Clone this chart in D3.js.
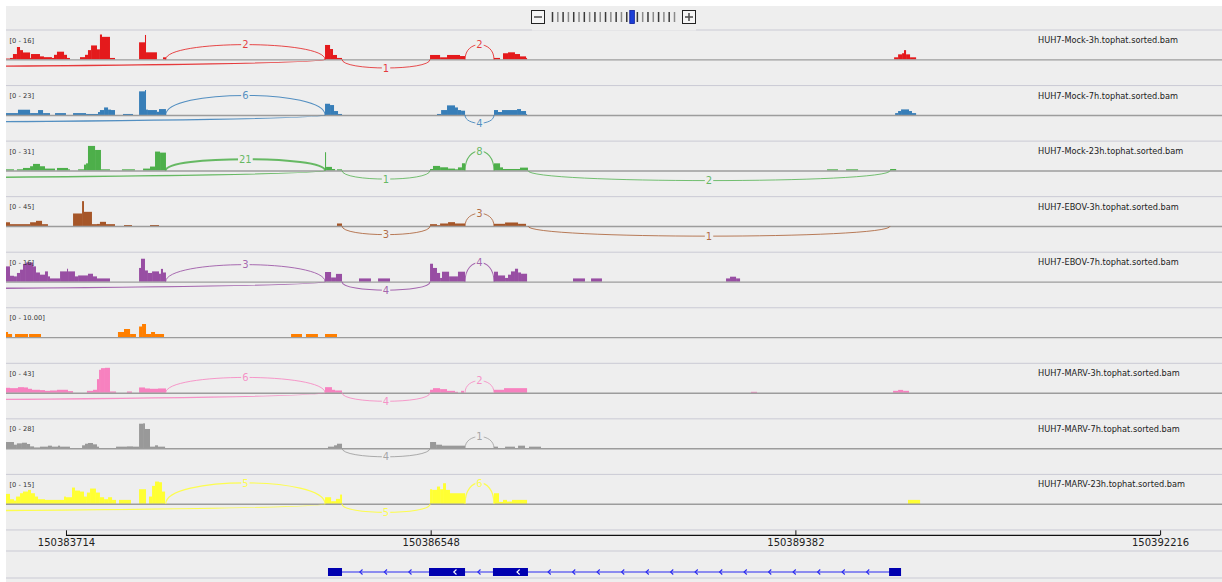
<!DOCTYPE html>
<html>
<head>
<meta charset="utf-8">
<script src="https://cdn.jsdelivr.net/npm/d3@7"></script>
<style>
  html, body { margin: 0; padding: 0; background: #fff; }
  svg { display: block; font-family: "DejaVu Sans", sans-serif; }
</style>
</head>
<body>
<svg id="chart" width="1222" height="582"></svg>
<script>
// Sashimi view, chr region shown in the reference. Positions below are bp offsets from REGION_START.
var REGION_START = 150383248, REGION_END = 150392697;
var AXIS_TICKS = [150383714, 150386548, 150389382, 150392216];

var TRACK_NAMES = ["HUH7-Mock-3h.tophat.sorted.bam", "HUH7-Mock-7h.tophat.sorted.bam",
  "HUH7-Mock-23h.tophat.sorted.bam", "HUH7-EBOV-3h.tophat.sorted.bam", "HUH7-EBOV-7h.tophat.sorted.bam",
  "", "HUH7-MARV-3h.tophat.sorted.bam", "HUH7-MARV-7h.tophat.sorted.bam", "HUH7-MARV-23h.tophat.sorted.bam"];
var TRACK_COLORS = ["#e41a1c", "#377eb8", "#4daf4a", "#a65628", "#984ea3", "#ff7f00", "#f781bf", "#999999", "#ffff33"];
var DATA_MAX = [16, 23, 31, 45, 16, 10, 43, 28, 15];
var RANGE_LABELS = ["[0 - 16]", "[0 - 23]", "[0 - 31]", "[0 - 45]", "[0 - 16]", "[0 - 10.00]", "[0 - 43]", "[0 - 28]", "[0 - 15]"];

// coverage: [start, end, depth]
var COV_MOCK_3H = [[0,31,0.6],[31,54,1],[54,85,3.5],[85,109,8],[109,132,6],[132,187,4.5],[187,194,1],[194,264,3.5],[264,295,2],[295,357,1.5],[357,373,1],[373,396,3],[396,451,5],[451,474,3],[474,497,1],[575,614,1.5],[614,637,3],[637,661,6],[661,707,9],[707,730,6.5],[730,746,16],[746,808,14.5],[808,847,1],[1034,1080,11],[1080,1088,15.7],[1088,1173,4.6],[1220,1243,1.4],[2479,2518,9.3],[2518,2541,6.7],[2541,2572,2.9],[2572,2611,1],[3295,3373,2.9],[3373,3427,1.4],[3427,3528,2.9],[3528,3567,2.2],[3792,3839,1],[3862,3901,4],[3901,3955,4.6],[3955,3994,3.5],[3994,4041,2],[4041,4049,1],[6901,6932,1.4],[6932,6963,3.3],[6963,6978,4],[6978,6994,6],[6994,7025,3.3],[7025,7072,1.4]];
var COV_MOCK_7H = [[0,93,1.8],[93,187,4.9],[187,249,1.8],[249,288,4.6],[288,342,1.8],[381,466,1.8],[521,622,1.8],[622,715,1],[715,730,2.8],[730,762,4.6],[762,793,7],[793,816,5],[816,847,4.6],[909,987,1],[1034,1080,21.8],[1080,1088,23],[1088,1103,5],[1103,1173,4.6],[1173,1189,3],[1189,1243,5.5],[2479,2518,10.4],[2518,2549,9.2],[2549,2580,3.7],[2580,2611,1],[3349,3381,1],[3381,3427,4.6],[3427,3489,8.9],[3489,3512,7],[3512,3536,4.6],[3536,3567,4],[3792,3823,4.6],[3823,3854,2.8],[3854,3971,4.6],[3971,4002,5.5],[4002,4041,3.7],[4041,4049,1],[6909,6932,1.8],[6932,6955,3.7],[6955,7017,5.2],[7017,7040,3.7],[7040,7072,1.8]];
var COV_MOCK_23H = [[0,62,1.6],[85,132,1.6],[132,187,3.3],[187,210,5.4],[210,264,8.3],[264,303,5.4],[303,381,2.5],[396,482,3.3],[482,497,1.6],[560,606,1.6],[606,622,7.4],[622,637,9],[637,692,30.6],[692,738,25.6],[738,808,1.6],[901,1002,1.6],[1065,1119,2.5],[1119,1158,5],[1158,1197,23.6],[1197,1243,22.3],[2479,2487,22.8],[2487,2533,4.6],[2533,2557,2],[2572,2611,1.6],[3295,3318,2],[3318,3373,5.8],[3373,3435,4.1],[3435,3489,2.5],[3489,3512,1.6],[3512,3543,4],[3543,3567,9.1],[3792,3839,9],[3839,3862,4],[3862,3994,2],[3994,4056,3.7],[6380,6465,1.6],[6528,6621,1.6],[6870,6917,2]];
var COV_EBOV_3H = [[0,31,7],[31,187,3.6],[187,233,7],[233,280,9.6],[280,326,3.6],[521,591,22.8],[591,606,45],[606,668,25.8],[668,707,3.6],[707,730,4],[730,777,7.8],[777,847,3.6],[917,979,2],[1119,1189,2],[2572,2611,4.8],[3295,3349,3.6],[3349,3373,1.8],[3373,3435,4.8],[3435,3489,7.2],[3489,3567,4.8],[3792,3878,4.2],[3878,3979,6.6],[3979,4041,4.2]];
var COV_EBOV_7H = [[0,31,9.8],[31,62,3.8],[62,85,3.4],[85,109,5.6],[109,132,7.7],[132,155,11.4],[155,210,12.3],[210,233,9.8],[233,264,5.9],[264,303,4.5],[303,326,6.6],[326,342,3.4],[342,420,2.1],[420,474,6.6],[474,482,8.3],[482,536,6.6],[536,560,3.4],[560,637,4],[637,676,5.1],[676,707,3.4],[707,808,2.1],[1034,1049,8.8],[1049,1080,14.7],[1080,1103,7.2],[1103,1135,5.6],[1135,1189,6.6],[1189,1204,5.1],[1204,1220,8.2],[1220,1243,5.9],[2479,2526,6.2],[2526,2564,2.7],[2564,2611,5],[2743,2836,2.1],[2891,2984,2.1],[3295,3318,11.5],[3318,3349,8.8],[3349,3373,5.6],[3373,3388,2.4],[3388,3443,6.4],[3443,3512,3.4],[3512,3567,6.4],[3792,3823,6.4],[3823,3878,4],[3878,3901,2.4],[3901,3924,4.5],[3924,3955,6.6],[3955,3979,8.3],[3979,4002,5.9],[4002,4049,5.1],[4406,4499,2.1],[4546,4631,2.1],[5595,5626,2.1],[5626,5673,3.2],[5673,5704,2.1]];
var COV_EBOV_23H = [[0,16,2.1],[16,47,1.3],[70,171,1.3],[179,272,1.3],[870,917,2.1],[917,964,3.3],[964,1010,1.3],[1034,1057,4.3],[1057,1088,5.3],[1088,1127,1.3],[1127,1158,2.1],[1158,1228,1.3],[2215,2300,1.3],[2331,2424,1.3],[2479,2572,1.3]];
var COV_MARV_3H = [[0,31,8.6],[31,93,8],[93,140,9.7],[140,171,9.2],[171,202,6.9],[202,264,5.2],[264,303,4.6],[303,342,3.4],[342,396,4],[396,482,5.2],[482,521,2.9],[629,676,3.4],[676,707,5.2],[707,723,23.5],[723,738,39.6],[738,769,42.4],[769,808,43],[808,855,2.3],[940,979,2.3],[1034,1080,9.2],[1080,1119,7.5],[1119,1181,6.9],[1181,1243,7.5],[2479,2533,9.7],[2533,2557,5.2],[2557,2611,4],[3295,3318,5.2],[3318,3373,8],[3373,3427,6.3],[3427,3489,3.4],[3489,3512,1.7],[3536,3559,3.4],[3792,3870,5.2],[3870,4049,8],[5789,5836,1.7],[6893,6932,3.4],[6932,6971,5],[6971,7017,3.4]];
var COV_MARV_7H = [[0,62,7.1],[62,85,4.1],[85,124,5.6],[124,163,6.3],[163,187,4.9],[187,218,2.2],[218,264,1],[264,326,1.9],[326,357,3],[357,404,1.9],[404,420,3],[420,497,1.9],[591,614,3.4],[614,637,5.2],[637,676,6],[676,707,4.5],[707,723,1.9],[855,940,1.9],[940,987,2.2],[987,1034,1.9],[1034,1065,27.6],[1065,1080,28],[1080,1119,21.7],[1119,1158,1.9],[1158,1181,3.4],[1181,1236,1.9],[2502,2549,1.9],[2549,2572,3.4],[2572,2611,5.2],[3295,3342,7.1],[3342,3388,4.1],[3388,3567,3],[3792,3823,1.9],[3878,3955,1.9],[3979,4033,3],[4064,4157,1.9]];
var COV_MARV_23H = [[0,31,6],[31,62,2.8],[62,78,2],[78,109,4.4],[109,132,6.4],[132,171,7.4],[171,194,8.4],[194,225,6.4],[225,249,4.4],[249,303,2.8],[303,451,2.4],[451,466,4.4],[466,513,4],[513,536,9.8],[536,575,8],[575,606,7.4],[606,629,4.4],[629,653,6.8],[653,699,9.2],[699,730,6.8],[730,762,4],[762,793,2.8],[793,824,4],[824,855,2.4],[878,971,2.4],[1034,1088,8.8],[1111,1135,4.4],[1135,1158,10.8],[1158,1189,13.4],[1189,1212,13],[1212,1236,7.4],[2479,2526,4],[2526,2564,1.6],[2564,2596,3],[2596,2611,5.6],[3295,3311,8.8],[3311,3349,8.4],[3349,3373,10.4],[3373,3396,8.8],[3396,3419,12.4],[3419,3450,8.4],[3450,3567,6.4],[3792,3831,6.4],[3831,3862,1.2],[3862,3893,2.4],[3893,3932,1.4],[3932,4049,2.4],[7009,7103,2.4]];

// junctions: [start, end, reads, side (+1 above / -1 below)]
var JCT_MOCK_3H = [[-19474,2479,8,-1],[1241,2479,2,1],[2611,3295,1,-1],[3567,3792,2,1]];
var JCT_MOCK_7H = [[-19474,2479,10,-1],[1241,2479,6,1],[3567,3792,4,-1]];
var JCT_MOCK_23H = [[-19474,2479,18,-1],[1241,2479,21,1],[2611,3295,1,-1],[3567,3792,8,1],[4056,6870,2,-1]];
var JCT_EBOV_3H = [[2611,3295,3,-1],[3567,3792,3,1],[4056,6870,1,-1]];
var JCT_EBOV_7H = [[-19474,2479,8,-1],[1241,2479,3,1],[2611,3295,4,-1],[3567,3792,4,1]];
var JCT_EBOV_23H = [];
var JCT_MARV_3H = [[-19474,2479,18,-1],[1241,2479,6,1],[2611,3295,4,-1],[3567,3792,2,1]];
var JCT_MARV_7H = [[2611,3295,4,-1],[3567,3792,1,1]];
var JCT_MARV_23H = [[-19474,2479,7,-1],[1241,2479,5,1],[2611,3295,5,-1],[3567,3792,6,1]];

var GENE_EXONS = [[2502,2611],[3287,3567],[3784,4056],[6862,6955]];
var ZOOM_LEVELS = 24, ZOOM_CURRENT = 15;

(function () {
  "use strict";
  var W = 1222, H = 582, PANEL_L = 6, PANEL_T = 6;
  var TOP0 = 30, PITCH = 55.55, BASE = 29.5, COV_H = 25;
  var PANEL_BG = "#eeeeee", SEP = "#cacad4";

  var covs = [COV_MOCK_3H, COV_MOCK_7H, COV_MOCK_23H, COV_EBOV_3H, COV_EBOV_7H, COV_EBOV_23H, COV_MARV_3H, COV_MARV_7H, COV_MARV_23H];
  var jcts = [JCT_MOCK_3H, JCT_MOCK_7H, JCT_MOCK_23H, JCT_EBOV_3H, JCT_EBOV_7H, JCT_EBOV_23H, JCT_MARV_3H, JCT_MARV_7H, JCT_MARV_23H];
  var tracks = TRACK_NAMES.map(function (n, i) {
    return { name: n, color: TRACK_COLORS[i], max: DATA_MAX[i], range: RANGE_LABELS[i], cov: covs[i], jct: jcts[i],
             top: TOP0 + i * PITCH };
  });

  var x = d3.scaleLinear().domain([REGION_START, REGION_END]).range([PANEL_L, W]);
  function gx(off) { return x(REGION_START + off); }

  var svg = d3.select("#chart");
  svg.append("rect").attr("x", PANEL_L).attr("y", PANEL_T).attr("width", W - PANEL_L).attr("height", H - PANEL_T)
    .attr("fill", PANEL_BG);
  svg.append("clipPath").attr("id", "panel-clip").append("rect")
    .attr("x", PANEL_L).attr("y", PANEL_T).attr("width", W - PANEL_L).attr("height", H - PANEL_T);

  // separators
  var seps = d3.range(10).map(function (i) { return TOP0 + i * PITCH; }).concat([551, 578]);
  svg.append("g").selectAll("line").data(seps).enter().append("line")
    .attr("x1", PANEL_L).attr("x2", W).attr("y1", function (d) { return d; }).attr("y2", function (d) { return d; })
    .attr("stroke", SEP).attr("stroke-width", 1);

  var body = svg.append("g").attr("clip-path", "url(#panel-clip)");

  tracks.forEach(function (t) {
    var base = t.top + BASE;
    var y = d3.scaleLinear().domain([0, t.max]).range([base, base - COV_H]);
    var g = body.append("g");

    g.selectAll("rect").data(t.cov).enter().append("rect")
      .attr("x", function (d) { return gx(d[0]); })
      .attr("width", function (d) { return Math.max(0.8, gx(d[1]) - gx(d[0])); })
      .attr("y", function (d) { return y(d[2]); })
      .attr("height", function (d) { return base - y(d[2]); })
      .attr("fill", t.color);

    g.append("line").attr("x1", PANEL_L).attr("x2", W).attr("y1", base + 0.4).attr("y2", base + 0.4)
      .attr("stroke", "#9c9c9c").attr("stroke-width", 1.4);

    // junction arcs: height above follows read share, below arcs stay shallow
    var arcs = t.jct.map(function (j) {
      var x0 = gx(j[0]), x1 = gx(j[1]), side = j[3], r = j[2] / t.max, apex;
      if (side > 0) apex = r > 0.5 ? 11.4 : Math.min(21, 10.5 + 35 * r);
      else apex = Math.min(10, 8 + (x1 - x0) * 0.0055);
      var h = apex / 0.75 * side;
      return { x0: x0, x1: x1, h: h, apexY: base - apex * side, reads: j[2], w: 0.9 + 2.2 * r * r };
    });
    g.selectAll("path.arc").data(arcs).enter().append("path").attr("class", "arc")
      .attr("d", function (a) {
        return "M" + a.x0 + "," + base + "C" + a.x0 + "," + (base - a.h) + " " + a.x1 + "," + (base - a.h) +
               " " + a.x1 + "," + base;
      })
      .attr("fill", "none").attr("stroke", t.color).attr("stroke-opacity", 0.85)
      .attr("stroke-width", function (a) { return a.w; });

    arcs.filter(function (a) { var m = (a.x0 + a.x1) / 2; return m > PANEL_L && m < W; }).forEach(function (a) {
      var lg = g.append("g").attr("transform", "translate(" + ((a.x0 + a.x1) / 2) + "," + a.apexY + ")");
      var bg = lg.append("rect").attr("fill", PANEL_BG);
      var txt = lg.append("text").attr("text-anchor", "middle").attr("dy", "0.36em")
        .attr("font-size", 10).attr("fill", t.color).attr("fill-opacity", 0.85).text(a.reads);
      var bb = txt.node().getBBox();
      bg.attr("x", bb.x - 1).attr("y", bb.y + 1).attr("width", bb.width + 2).attr("height", bb.height - 2);
    });

    g.append("text").attr("x", 9.5).attr("y", t.top + 12.6).attr("font-size", 6.7).attr("fill", "#333")
      .text(t.range);
    if (t.name) {
      g.append("text").attr("x", 1038).attr("y", t.top + 13).attr("font-size", 8.2).attr("fill", "#222")
        .text(t.name);
    }
  });

  // ruler
  var axis = d3.axisBottom(x).tickValues(AXIS_TICKS).tickFormat(d3.format("d"))
    .tickSizeInner(-5).tickSizeOuter(0).tickPadding(4);
  var ag = svg.append("g").attr("transform", "translate(0,535.3)").call(axis);
  ag.select(".domain").remove();
  ag.append("line").attr("x1", x(AXIS_TICKS[0])).attr("x2", x(AXIS_TICKS[AXIS_TICKS.length - 1]))
    .attr("stroke", "#111").attr("stroke-width", 1.3);
  ag.selectAll(".tick line").attr("stroke", "#111");
  ag.selectAll("text").attr("font-size", 10).attr("font-family", "DejaVu Sans").attr("fill", "#222");

  // gene model
  var gy = 572;
  var gene = svg.append("g");
  var gStart = gx(GENE_EXONS[0][0]), gEnd = gx(GENE_EXONS[GENE_EXONS.length - 1][1]);
  gene.append("line").attr("x1", gStart).attr("x2", gEnd).attr("y1", gy).attr("y2", gy)
    .attr("stroke", "#2b2bf0").attr("stroke-width", 1.1);
  var chevrons = [];
  for (var k = 0; k < GENE_EXONS.length - 1; k++) {
    var a = gx(GENE_EXONS[k][1]), b = gx(GENE_EXONS[k + 1][0]);
    var n = Math.max(1, Math.floor((b - a) / 24.5)), mid = (a + b) / 2;
    for (var c = 0; c < n; c++) chevrons.push({ x: mid + (c - (n - 1) / 2) * 24.5, white: false });
  }
  gene.selectAll("rect").data(GENE_EXONS).enter().append("rect")
    .attr("x", function (d) { return gx(d[0]); }).attr("width", function (d) { return gx(d[1]) - gx(d[0]); })
    .attr("y", gy - 4).attr("height", 8).attr("fill", "#0000b0");
  GENE_EXONS.forEach(function (d) {
    var w = gx(d[1]) - gx(d[0]);
    if (w > 25) chevrons.push({ x: gx(d[0]) + w * 0.72, white: true });
  });
  gene.selectAll("path").data(chevrons).enter().append("path")
    .attr("d", function (d) { return "M" + (d.x + 1.5) + "," + (gy - 2.5) + "L" + (d.x - 1.2) + "," + gy + "L" + (d.x + 1.5) + "," + (gy + 2.5); })
    .attr("fill", "none").attr("stroke", function (d) { return d.white ? "#fff" : "#2b2bf0"; }).attr("stroke-width", 1.1);

  // zoom widget
  var zw = svg.append("g");
  zw.append("rect").attr("x", 532).attr("y", PANEL_T).attr("width", 164).attr("height", 24.5).attr("fill", PANEL_BG);
  var zx = d3.scaleLinear().domain([0, ZOOM_LEVELS - 1]).range([552.5, 674.5]);
  zw.selectAll("rect.tick").data(d3.range(ZOOM_LEVELS)).enter().append("rect").attr("class", "tick")
    .attr("x", function (d) { return zx(d) - 0.75; }).attr("y", 12).attr("width", 1.5).attr("height", 10)
    .attr("fill", function (d) { return d % 2 ? "#8a8a8a" : "#3a3a3a"; });
  zw.append("rect").attr("x", zx(ZOOM_CURRENT) - 2.3).attr("y", 10.5).attr("width", 4.6).attr("height", 13)
    .attr("fill", "#1c3fd6").attr("stroke", "#0b1c9c").attr("stroke-width", 0.8);
  [[538, false], [689, true]].forEach(function (b) {
    zw.append("rect").attr("x", b[0] - 6.5).attr("y", 10.5).attr("width", 13).attr("height", 13)
      .attr("fill", "#f5f5f5").attr("stroke", "#222").attr("stroke-width", 1);
    zw.append("line").attr("x1", b[0] - 4).attr("x2", b[0] + 4).attr("y1", 17).attr("y2", 17)
      .attr("stroke", "#555").attr("stroke-width", 1.6);
    if (b[1]) zw.append("line").attr("x1", b[0]).attr("x2", b[0]).attr("y1", 13).attr("y2", 21)
      .attr("stroke", "#555").attr("stroke-width", 1.6);
  });
})();
</script>
</body>
</html>
